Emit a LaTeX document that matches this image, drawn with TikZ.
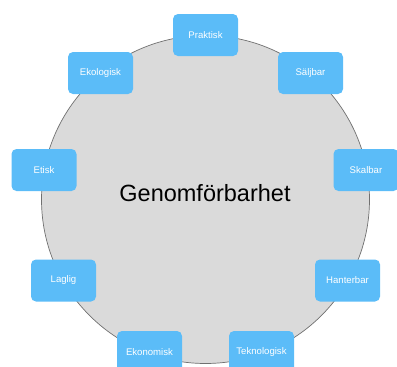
\documentclass[tikz,border=0pt]{standalone}
\usepackage{fontspec}
\setmainfont{Liberation Sans}
\definecolor{boxblue}{HTML}{5BBCF8}
\definecolor{circfill}{HTML}{DADADA}
\definecolor{circline}{HTML}{707070}
\begin{document}
\begin{tikzpicture}[x=1pt,y=-1pt,
  item/.style={fill=boxblue,draw=none,rounded corners=5pt,minimum width=65pt,minimum height=42pt,inner sep=0pt,text=white,font=\fontsize{9.6}{11}\selectfont},
  hub/.style={circle,fill=circfill,draw=circline,line width=0.7pt,minimum size=328pt,inner sep=0pt}]
\useasboundingbox (0,0) rectangle (397,367);
\begin{scope}
\clip (0,0) rectangle (397,367);
\node[hub] (hub) at (205.5,199.5) {};
\node (title) at (205,193) {\fontsize{23.5}{28}\selectfont Genomförbarhet};
\node[item] (praktisk) at (205.5,35) {Praktisk};
\node[item] (saljbar) at (310.5,73) {Säljbar};
\node[item] (ekologisk) at (100.5,73) {Ekologisk};
\node[item] (etisk) at (44,170) {Etisk};
\node[item] (skalbar) at (366,170) {Skalbar};
\node[item] (laglig) at (63.5,280.5) {Laglig};
\node[item] (hanterbar) at (347.5,280.5) {Hanterbar};
\node[item] (ekonomisk) at (149.5,352) {Ekonomisk};
\node[item] (teknologisk) at (261.5,352) {Teknologisk};
\end{scope}
\end{tikzpicture}
\end{document}
